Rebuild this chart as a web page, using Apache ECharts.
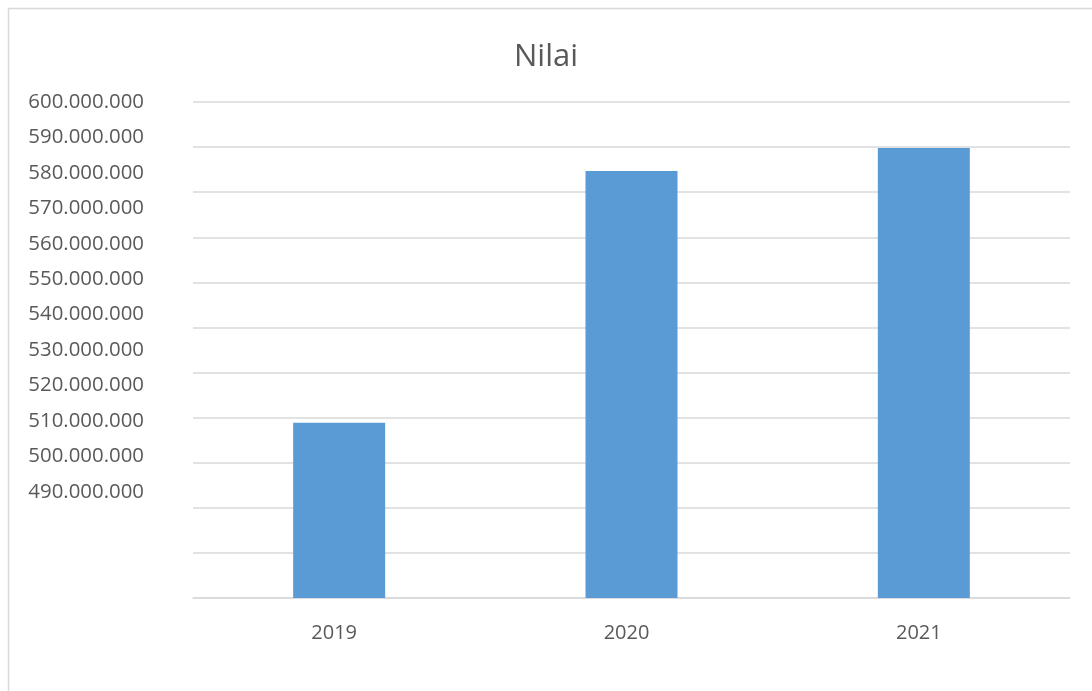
<!DOCTYPE html>
<html>
<head>
<meta charset="utf-8">
<script src="https://cdn.jsdelivr.net/npm/echarts@6/dist/echarts.min.js"></script>
<style>html,body{margin:0;padding:0;background:#fff}#c{width:1092px;height:691px}</style>
</head>
<body>
<div id="c"></div>
<script>
const title = 'Nilai';
const categories = ['2019', '2020', '2021'];
const values = [509500000, 580500000, 587000000];
const labelMin = 460000000;
const labelMax = 600000000;
const labelStep = 10000000;
const firstShownLabel = 490000000;
const gridLineCount = 11;

function fmt(v) {
  return String(Math.round(v)).replace(/\B(?=(\d{3})+(?!\d))/g, '.');
}

const chart = echarts.init(document.getElementById('c'), null, {renderer: 'canvas'});
chart.setOption({
  animation: false,
  backgroundColor: '#fff',
  title: {
    text: title, left: 'center', top: 37,
    textStyle: {fontFamily: 'Open Sans', fontSize: 31, fontWeight: 'normal', color: '#595959'}
  },
  graphic: [{
    type: 'rect', left: 6, top: 6, silent: true,
    shape: {width: 1120, height: 720},
    style: {fill: 'none', stroke: '#d9d9d9', lineWidth: 1.5}
  }],
  grid: {left: 193, right: 22, top: 102, bottom: 93, containLabel: false},
  xAxis: {
    type: 'category', data: categories,
    axisLine: {show: true, lineStyle: {color: '#d9d9d9', width: 1.5}},
    axisTick: {show: false},
    axisLabel: {margin: 25, padding: [0, 10, 0, 0], fontFamily: 'Open Sans', fontSize: 20, color: '#595959'}
  },
  yAxis: [{
    type: 'value', min: labelMin, max: labelMax, interval: labelStep,
    axisLine: {show: false}, axisTick: {show: false},
    splitLine: {show: false},
    axisLabel: {
      margin: 49, fontFamily: 'Open Sans', fontSize: 20.4, color: '#595959',
      formatter: v => v >= firstShownLabel ? fmt(v) : ''
    }
  }, {
    type: 'value', min: 0, max: gridLineCount, interval: 1, position: 'left',
    axisLine: {show: false}, axisTick: {show: false}, axisLabel: {show: false},
    splitLine: {show: true, lineStyle: {color: '#d9d9d9', width: 1.5}}
  }],
  series: [{
    type: 'bar', data: values, yAxisIndex: 0, barWidth: 92,
    itemStyle: {color: '#5B9BD5'}
  }]
});
</script>
</body>
</html>
